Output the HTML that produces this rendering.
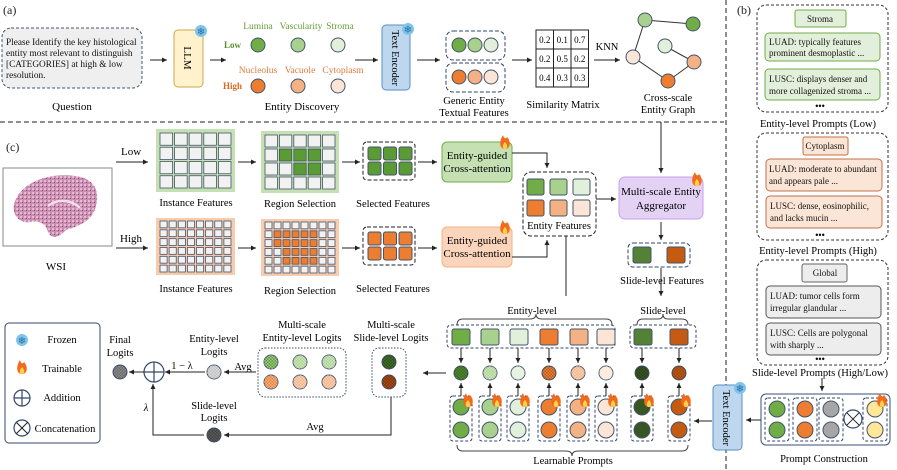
<!DOCTYPE html>
<html><head><meta charset="utf-8"><style>
html,body{margin:0;padding:0;background:#fff;}
svg{display:block;font-family:"Liberation Serif",serif;}
</style></head><body>
<svg id="s" width="897" height="470" viewBox="0 0 897 470" xmlns="http://www.w3.org/2000/svg">
<defs>
<marker id="ar" markerWidth="6" markerHeight="6" refX="5" refY="3" orient="auto"><path d="M0,0.5 L5,3 L0,5.5z" fill="#222"/></marker>
<pattern id="ck" width="3" height="3" patternUnits="userSpaceOnUse"><rect width="1.5" height="1.5" fill="rgba(255,255,255,0.45)"/><rect x="1.5" y="1.5" width="1.5" height="1.5" fill="rgba(255,255,255,0.45)"/></pattern>
<pattern id="ckd" width="3" height="3" patternUnits="userSpaceOnUse"><rect width="1.5" height="1.5" fill="rgba(0,0,0,0.25)"/><rect x="1.5" y="1.5" width="1.5" height="1.5" fill="rgba(0,0,0,0.25)"/></pattern>
<pattern id="tis" width="4" height="4" patternUnits="userSpaceOnUse"><rect width="4" height="4" fill="#c98bb0"/><rect width="2" height="2" fill="#e3bcd2"/><rect x="2" y="2" width="1" height="1" fill="#8e4e78"/></pattern>
</defs>
<g stroke="#222" stroke-width="1" fill="none">
<line x1="0" y1="122" x2="724" y2="122" stroke-dasharray="5,3"/>
<line x1="726" y1="0" x2="726" y2="470" stroke-dasharray="5,3"/>
</g>
<g font-size="12" fill="#222"><text x="3" y="14">(a)</text><text x="737" y="14">(b)</text><text x="6" y="151">(c)</text></g>

<!-- (a) -->
<rect x="2" y="28" width="140" height="60" rx="9" fill="#efefef" stroke="#44546a" stroke-dasharray="3,2"/>
<g font-size="9.3" fill="#111"><text x="6" y="45">Please Identify the key histological</text><text x="6" y="56">entity most relevant to distinguish</text><text x="6" y="67">[CATEGORIES] at high &amp; low</text><text x="6" y="78">resolution.</text></g>
<text x="72" y="110" font-size="11" text-anchor="middle">Question</text>
<rect x="174" y="30" width="29" height="57" rx="4" fill="#fff2cc" stroke="#c9a94a"/>
<text transform="translate(184,58) rotate(90)" font-size="11" text-anchor="middle">LLM</text>
<g font-size="9.5" fill="#6a9a3a" text-anchor="middle"><text x="258" y="29">Lumina</text><text x="301" y="29">Vascularity</text><text x="340" y="29">Stroma</text></g>
<g font-size="9.5" fill="#e07b39" text-anchor="middle"><text x="258" y="73">Nucleolus</text><text x="300" y="73">Vacuole</text><text x="343" y="73">Cytoplasm</text></g>
<text x="224" y="48" font-size="9" font-weight="bold" fill="#5b8f2e">Low</text>
<text x="223" y="89" font-size="9" font-weight="bold" fill="#d9691f">High</text>
<text x="302" y="110" font-size="11" text-anchor="middle">Entity Discovery</text>
<rect x="382" y="25" width="28" height="65" rx="4" fill="#bdd7ee" stroke="#5b8fc7"/>
<text transform="translate(392,58) rotate(90)" font-size="10.5" text-anchor="middle">Text Encoder</text>
<rect x="446" y="31" width="59" height="29" rx="7" fill="none" stroke="#33476b" stroke-dasharray="4,2"/>
<rect x="446" y="63" width="59" height="29" rx="7" fill="none" stroke="#33476b" stroke-dasharray="4,2"/>
<g font-size="10.5" text-anchor="middle"><text x="474" y="104">Generic Entity</text><text x="474" y="116">Textual Features</text><text x="563" y="108">Similarity Matrix</text><text x="668" y="101">Cross-scale</text><text x="668" y="113">Entity Graph</text><text x="607" y="50">KNN</text></g>
<g id="mat"></g>
<g stroke="#333" stroke-width="1"><line x1="645" y1="20" x2="693" y2="24"/><line x1="645" y1="20" x2="633" y2="57"/><line x1="633" y1="57" x2="668" y2="81"/><line x1="668" y1="81" x2="694" y2="62"/><line x1="665" y1="46" x2="694" y2="62"/></g>

<!-- (b) -->
<g font-size="9" fill="#111">
<rect x="757" y="5" width="131" height="107" rx="9" fill="none" stroke="#333" stroke-dasharray="3,2"/>
<rect x="795" y="10" width="51" height="17" rx="2" fill="#e2efda" stroke="#70ad47"/><text x="820" y="22" text-anchor="middle">Stroma</text>
<rect x="765" y="33" width="115" height="28" rx="4" fill="#e2efda" stroke="#70ad47"/><text x="769" y="45">LUAD: typically features</text><text x="769" y="56">prominent desmoplastic ...</text>
<rect x="765" y="69" width="115" height="31" rx="4" fill="#e2efda" stroke="#70ad47"/><text x="769" y="82">LUSC: displays denser and</text><text x="769" y="94">more collagenized stroma ...</text>
<text x="820" y="109" text-anchor="middle" font-weight="bold">•••</text>
<rect x="757" y="133" width="131" height="107" rx="9" fill="none" stroke="#333" stroke-dasharray="3,2"/>
<rect x="803" y="137" width="45" height="18" rx="2" fill="#fbe5d6" stroke="#c0704a"/><text x="825" y="149" text-anchor="middle">Cytoplasm</text>
<rect x="766" y="159" width="116" height="32" rx="4" fill="#fbe5d6" stroke="#c0704a"/><text x="769" y="172">LUAD: moderate to abundant</text><text x="769" y="184">and appears pale ...</text>
<rect x="766" y="196" width="116" height="32" rx="4" fill="#fbe5d6" stroke="#c0704a"/><text x="770" y="209">LUSC: dense, eosinophilic,</text><text x="770" y="221">and lacks mucin ...</text>
<text x="820" y="238" text-anchor="middle" font-weight="bold">•••</text>
<rect x="757" y="260" width="131" height="105" rx="9" fill="none" stroke="#333" stroke-dasharray="3,2"/>
<rect x="802" y="264" width="45" height="18" rx="2" fill="#ededed" stroke="#666"/><text x="825" y="276" text-anchor="middle">Global</text>
<rect x="766" y="286" width="115" height="32" rx="4" fill="#ededed" stroke="#555"/><text x="770" y="299">LUAD: tumor cells form</text><text x="770" y="311">irregular glandular ...</text>
<rect x="766" y="323" width="115" height="32" rx="4" fill="#ededed" stroke="#555"/><text x="770" y="336">LUSC: Cells are polygonal</text><text x="770" y="348">with sharply  ...</text>
<text x="820" y="362" text-anchor="middle" font-weight="bold">•••</text>
</g>
<g font-size="10.5" text-anchor="middle"><text x="818" y="127">Entity-level Prompts (Low)</text><text x="818" y="254">Entity-level Prompts (High)</text><text x="820" y="376">Slide-level Prompts (High/Low)</text><text x="824" y="462">Prompt Construction</text></g>
<rect x="761" y="394" width="129" height="51" rx="5" fill="none" stroke="#3b4f7a"/>
<rect x="713" y="385" width="29" height="65" rx="4" fill="#bdd7ee" stroke="#5b8fc7"/>
<text transform="translate(723,418) rotate(90)" font-size="10.5" text-anchor="middle">Text Encoder</text>

<!-- (c) -->
<rect x="3" y="168" width="109" height="78" fill="#fff" stroke="#888"/>
<path d="M14,205 C18,185 45,172 75,176 C95,178 100,192 96,206 C92,222 78,226 66,230 C58,238 52,240 48,232 C46,224 40,220 30,222 C20,224 12,215 14,205z" fill="url(#tis)"/>
<path d="M48,206 C58,198 72,200 80,208" stroke="#f2dfe9" stroke-width="2.5" fill="none"/>
<text x="56" y="270" font-size="11" text-anchor="middle">WSI</text>
<g font-size="11"><text x="121" y="155">Low</text><text x="120" y="242">High</text></g>
<rect x="156" y="129" width="79" height="63" fill="#c5e0b3"/>
<rect x="261" y="131" width="78" height="62" fill="#c5e0b3"/>
<rect x="156" y="218" width="79" height="57" fill="#f8cbad"/>
<rect x="261" y="219" width="78" height="57" fill="#f8cbad"/>
<rect x="363" y="142" width="52" height="38" rx="4" fill="none" stroke="#222" stroke-dasharray="4,2"/>
<rect x="363" y="227" width="52" height="38" rx="4" fill="none" stroke="#222" stroke-dasharray="4,2"/>
<g font-size="10.5" text-anchor="middle"><text x="196" y="206">Instance Features</text><text x="300" y="207">Region Selection</text><text x="393" y="207">Selected Features</text><text x="196" y="292">Instance Features</text><text x="300" y="294">Region Selection</text><text x="393" y="292">Selected Features</text></g>
<g id="grids"></g>
<rect x="442" y="142" width="70" height="40" rx="5" fill="#c5e0b3" stroke="#70ad47"/>
<rect x="442" y="227" width="70" height="40" rx="5" fill="#fbd5bb" stroke="#f4b183"/>
<g font-size="11" text-anchor="middle"><text x="477" y="159">Entity-guided</text><text x="477" y="172">Cross-attention</text><text x="477" y="244">Entity-guided</text><text x="477" y="257">Cross-attention</text></g>
<rect x="523" y="172" width="73" height="64" rx="8" fill="none" stroke="#222" stroke-dasharray="4,2"/>
<text x="559" y="229" font-size="10.5" text-anchor="middle">Entity Features</text>
<rect x="619" y="177" width="84" height="42" rx="6" fill="#e4d2f5" stroke="#c9a0e8"/>
<g font-size="11" text-anchor="middle"><text x="661" y="195">Multi-scale Entity</text><text x="661" y="209">Aggregator</text></g>
<rect x="628" y="243" width="62" height="24" rx="5" fill="none" stroke="#33476b" stroke-dasharray="4,2"/>
<text x="662" y="284" font-size="10.5" text-anchor="middle">Slide-level Features</text>
<g font-size="10.5" text-anchor="middle"><text x="532" y="314">Entity-level</text><text x="663" y="314">Slide-level</text><text x="573" y="464">Learnable Prompts</text></g>
<g stroke="#444" fill="none"><path d="M457,325 Q457,319 463,319 L530,319 Q536,319 536,314 Q536,319 542,319 L606,319 Q612,319 612,325"/><path d="M637,325 Q637,319 643,319 L658,319 Q663,319 663,314 Q663,319 668,319 L682,319 Q688,319 688,325"/>
<path d="M457,445 Q457,451 463,451 L566,451 Q572,451 572,456 Q572,451 578,451 L682,451 Q688,451 688,445"/></g>
<rect x="447" y="325" width="168" height="23" rx="4" fill="none" stroke="#33476b" stroke-dasharray="3,2"/>
<rect x="630" y="325" width="66" height="23" rx="4" fill="none" stroke="#33476b" stroke-dasharray="3,2"/>
<g id="prm"></g>

<!-- logits -->
<rect x="258" y="348" width="88" height="49" rx="7" fill="none" stroke="#33476b" stroke-dasharray="1.5,1.5"/>
<rect x="372" y="348" width="34" height="49" rx="7" fill="none" stroke="#33476b" stroke-dasharray="1.5,1.5"/>
<g font-size="10.5" text-anchor="middle"><text x="302" y="328">Multi-scale</text><text x="302" y="341">Entity-level Logits</text><text x="391" y="328">Multi-scale</text><text x="391" y="341">Slide-level Logits</text>
<text x="214" y="342">Entity-level</text><text x="214" y="355">Logits</text><text x="120" y="343">Final</text><text x="120" y="356">Logits</text>
<text x="214" y="409">Slide-level</text><text x="214" y="421">Logits</text><text x="243" y="370">Avg</text><text x="315" y="430">Avg</text><text x="182" y="369">1 − λ</text><text x="146" y="411" font-style="italic">λ</text></g>
<rect x="5" y="323" width="95" height="120" rx="4" fill="none" stroke="#33476b"/>
<g font-size="10.5" text-anchor="middle"><text x="62" y="343">Frozen</text><text x="62" y="372">Trainable</text><text x="62" y="401">Addition</text><text x="65" y="432">Concatenation</text></g>
<g id="dyn"></g>
</svg>
<script>
const NS="http://www.w3.org/2000/svg";
function el(p,t,a){const e=document.createElementNS(NS,t);for(const k in a)e.setAttribute(k,a[k]);p.appendChild(e);return e;}
const d=document.getElementById('dyn');
function arrow(pts){el(d,'polyline',{points:pts,fill:'none',stroke:'#222','stroke-width':1,'marker-end':'url(#ar)'});}
function line(pts){el(d,'polyline',{points:pts,fill:'none',stroke:'#222','stroke-width':1});}
function circ(x,y,r,f,s,pat){el(d,'circle',{cx:x,cy:y,r:r,fill:f,stroke:s||'#44546a','stroke-width':1});if(pat)el(d,'circle',{cx:x,cy:y,r:r,fill:'url(#'+pat+')'});}
function sq(x,y,w,h,f){el(d,'rect',{x:x,y:y,width:w,height:h,rx:2,fill:f,stroke:'#44546a','stroke-width':1});}
function snow(x,y){el(d,'circle',{cx:x,cy:y,r:6,fill:'#7fc4ea'});const t=el(d,'text',{x:x,y:y+4,'font-size':10,'text-anchor':'middle',fill:'#2a6fa0','font-family':'DejaVu Sans'});t.textContent='❄';}
function fire(x,y){el(d,'path',{d:`M${x},${y+8} C${x-6},${y+8} ${x-6},${y} ${x-2},${y-6} C${x-1},${y-2} ${x+1},${y-2} ${x+2},${y-4} C${x+6},${y} ${x+6},${y+8} ${x},${y+8}z`,fill:'#f26a1b'});el(d,'path',{d:`M${x},${y+8} C${x-3},${y+8} ${x-3},${y+4} ${x},${y+1} C${x+3},${y+4} ${x+3},${y+8} ${x},${y+8}z`,fill:'#ffd24a'});}
const G=['#70ad47','#a9d18e','#e2efda'],O=['#ed7d31','#f4b183','#fbe5d6'];
arrow('150,60 167,60');arrow('210,60 226,60');arrow('355,60 378,60');arrow('417,60 440,60');arrow('512,60 532,60');arrow('594,60 620,60');
[258,298,338].forEach((x,i)=>{circ(x,45,7,G[i]);circ(x,86,7,O[i]);});
[459,475,491].forEach((x,i)=>{circ(x,45,7,G[i]);circ(x,77,7,O[i]);});
snow(201,31);snow(408,29);
const m=document.getElementById('mat');const vals=[['0.2','0.1','0.7'],['0.2','0.5','0.2'],['0.4','0.3','0.3']];
for(let r=0;r<3;r++)for(let c=0;c<3;c++){el(m,'rect',{x:536+c*17.5,y:30+r*19,width:17.5,height:19,fill:'#fff',stroke:'#222'});}
[[645,20,G[1]],[693,24,G[0]],[633,57,O[2]],[665,46,G[2]],[694,62,O[1]],[668,81,O[0]]].forEach(a=>circ(a[0],a[1],7,a[2]));
arrow('116,162 148,162');arrow('116,248 148,248');arrow('238,162 256,162');arrow('342,162 360,162');arrow('238,248 256,248');arrow('342,248 360,248');
arrow('418,162 437,162');arrow('418,248 437,248');
arrow('512,153 547,153 547,168');arrow('512,257 547,257 547,240');arrow('596,199 616,199');arrow('661,122 661,173');arrow('661,222 661,240');
line('566,236 566,296');arrow('661,268 661,296');
const gr=document.getElementById('grids');
function grid(x0,y0,w,h,cols,rows,hl,col){const cw=w/cols,ch=h/rows;for(let r=0;r<rows;r++)for(let c=0;c<cols;c++){el(gr,'rect',{x:x0+c*cw+1,y:y0+r*ch+1,width:cw-2,height:ch-2,fill:hl&&hl(r,c)?col:'#f2f2f2',stroke:'#44546a','stroke-width':0.8});}}
grid(159,132,73,57,5,4);grid(264,134,72,56,5,4,(r,c)=>(r==1&&c>=1&&c<=3)||(r==2&&c>=2&&c<=3),'#5b9b35');
grid(159,220,73,53,8,6);grid(264,221,72,53,8,6,(r,c)=>(r==1&&c>=1&&c<=5)||(r==2&&c>=1&&c<=5)||(r>=3&&r<=4&&c>=2&&c<=5),'#ed7d31');
for(let c=0;c<3;c++){sq(368+c*15.5,147,13,13,'#5b9b35');sq(368+c*15.5,162,13,13,'#5b9b35');sq(368+c*15.5,232,13,13,'#ed7d31');sq(368+c*15.5,247,13,13,'#ed7d31');}
[527,550,573].forEach((x,i)=>{sq(x,179,17,16,G[i]);sq(x,200,17,16,O[i]);});
sq(633,247,18,16,'#548235');sq(667,247,18,16,'#c55a11');
fire(505,141);fire(505,226);fire(697,178);
const px=[461,490,518,549,578,606,642,679];const pc=[G[0],G[1],G[2],O[0],O[1],O[2],'#375623','#c55a11'];
const sqx=[452,481,510,540,570,597,634,670];
px.forEach((x,i)=>{sq(sqx[i],329,18,16,i==6?'#548235':pc[i]);arrow(`${x},348 ${x},363`);circ(x,373,7,pc[i]==G[0]?'#4f8a2d':pc[i],null,i<6?(i==0||i==3?'ckd':'ck'):'ckd');
el(d,'rect',{x:x-11,y:396,width:22,height:45,rx:3,fill:'none',stroke:'#33476b','stroke-dasharray':'3,2'});
circ(x,407,8,pc[i]);circ(x,430,8,pc[i]);arrow(`${x},396 ${x},383`);fire(x+7,399);});
arrow('712,421 694,421');arrow('761,420 746,420');arrow('822,378 822,391');snow(740,388);
[[777,G[0]],[805,O[0]],[831,'#a6a6a6'],[875,'#ffe699']].forEach(a=>{el(d,'rect',{x:a[0]-12,y:398,width:24,height:43,rx:3,fill:'none',stroke:'#33476b','stroke-dasharray':'3,2'});circ(a[0],409,8,a[1]);circ(a[0],430,8,a[1]);});
fire(882,399);
function otimes(x,y,r){el(d,'circle',{cx:x,cy:y,r:r,fill:'#fff',stroke:'#33476b','stroke-width':1.2});const k=r*0.7;line(`${x-k},${y-k} ${x+k},${y+k}`);line(`${x-k},${y+k} ${x+k},${y-k}`);}
function oplus(x,y,r){el(d,'circle',{cx:x,cy:y,r:r,fill:'#fff',stroke:'#33476b','stroke-width':1.2});el(d,'path',{d:`M${x-r},${y}H${x+r}M${x},${y-r}V${y+r}`,stroke:'#33476b','stroke-width':1.2});}
otimes(853,419,9);
arrow('446,373 423,373');
[271,300,329].forEach((x,i)=>{circ(x,362,7,i==0?'#5b9b35':G[i]==G[2]?'#a9d18e':G[i],null,'ck');circ(x,382,7,O[i]==O[2]?'#f4b183':O[i],null,'ck');});
circ(389,362,7,'#3f6e27',null,'ckd');circ(389,382,7,'#a84a12',null,'ckd');
arrow('256,372 224,372');circ(214,372,7,'#bfbfbf',null,'ck');
arrow('205,372 165,372');oplus(154,372,10);arrow('144,372 129,372');circ(120,372,7,'#8c8c8c',null,'ckd');
arrow('391,397 391,435 224,435');circ(214,435,7,'#595959',null,'ckd');arrow('204,435 153,435 153,384');
snow(22,340);fire(22,366);oplus(22,398,8);otimes(22,428,8);
vals.forEach((row,r)=>row.forEach((v,c)=>{const t=el(m,'text',{x:536+c*17.5+8.75,y:30+r*19+13,'font-size':9,'text-anchor':'middle'});t.textContent=v;}));
</script>
</body></html>
